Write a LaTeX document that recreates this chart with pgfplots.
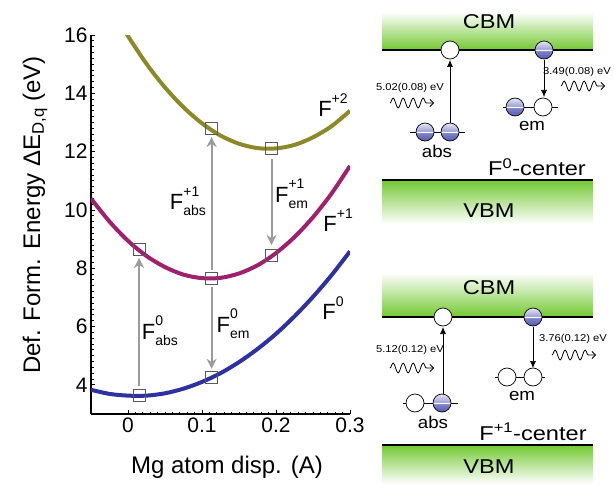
\documentclass[border=0pt]{standalone}
\usepackage{fontspec}
\setmainfont{Liberation Sans}
\usepackage{pgfplots}
\pgfplotsset{compat=1.18}
\usetikzlibrary{arrows.meta,decorations.pathmorphing}
\definecolor{olivec}{RGB}{140,138,40}
\definecolor{magc}{RGB}{160,32,110}
\definecolor{bluec}{RGB}{45,50,160}
\definecolor{greenc}{RGB}{115,200,50}
\definecolor{ballc}{RGB}{85,90,180}
\definecolor{arrowc}{RGB}{155,155,155}
\pgfdeclareverticalshading{ball}{100bp}{color(0bp)=(ballc); color(25bp)=(ballc); color(47bp)=(ballc!75); color(50bp)=(white); color(53bp)=(ballc!55); color(75bp)=(ballc!15); color(100bp)=(ballc!15)}
\newcommand{\Flab}[2]{F\raisebox{0.62em}{\makebox[0pt][l]{\fontsize{14}{14}\selectfont#1}}\raisebox{-0.28em}{\fontsize{14}{14}\selectfont#2}}
\newcommand{\Fsup}[1]{F\raisebox{0.62em}{\fontsize{14}{14}\selectfont#1}}
\tikzset{
  ball/.style={shading=ball, draw=black, line width=0.7pt},
  emptyc/.style={fill=white, draw=black, line width=0.7pt},
  big/.style={font=\fontsize{20}{20}\selectfont, xscale=1.18},
  small/.style={font=\fontsize{10}{10}\selectfont, xscale=1.12},
  mid/.style={font=\fontsize{17}{17}\selectfont, xscale=1.1},
  wave/.style={decorate, decoration={snake, amplitude=5pt, segment length=10pt, post length=4pt}, line width=0.8pt, -{Straight Barb[length=3.5pt]}},
  tr/.style={line width=0.7pt, -{Latex[length=7pt,width=6pt]}}
}
\begin{document}
\begin{tikzpicture}
\useasboundingbox (0,0) rectangle (615pt,-484pt);
\begin{axis}[at={(91pt,-414pt)}, anchor=south west,
  width=259pt, height=379pt, scale only axis,
  xmin=-0.05, xmax=0.3, ymin=3, ymax=16,
  clip mode=individual,
  axis lines*=left, axis line style={line width=1.5pt},
  xtick={0,0.1,0.2,0.3}, ytick={4,6,8,10,12,14,16},
  minor x tick num=9, minor y tick num=9,
  tick align=inside, major tick length=4pt, minor tick length=2.5pt,
  tick style={black, line width=0.8pt},
  /pgf/number format/assume math mode=true,
  ticklabel style={font=\fontsize{21}{21}\selectfont},
  xticklabel style={/pgf/number format/fixed},
  label style={font=\fontsize{24}{24}\selectfont},
  xlabel={Mg atom disp. (A)},
  ylabel={Def. Form. Energy ΔE\textsubscript{D,q} (eV)},
  xlabel style={at={(axis description cs:0.525,-0.14)}, anchor=center},
  ylabel style={at={(axis description cs:-0.216,0.525)}, anchor=center},
]
\addplot[olivec, line width=4pt, smooth] coordinates {
(-0.01,16.38) (0,15.96) (0.025,15.01) (0.05,14.20) (0.075,13.52) (0.1,12.97) (0.125,12.55) (0.15,12.27) (0.175,12.12) (0.2,12.11) (0.225,12.23) (0.25,12.49) (0.275,12.87) (0.3,13.40)};
\addplot[magc, line width=4pt, smooth] coordinates {
(-0.05,10.39) (-0.025,9.60) (0,8.94) (0.025,8.42) (0.05,8.04) (0.075,7.78) (0.1,7.66) (0.125,7.67) (0.15,7.82) (0.175,8.10) (0.2,8.52) (0.225,9.07) (0.25,9.75) (0.275,10.56) (0.3,11.51)};
\addplot[bluec, line width=4pt, smooth] coordinates {
(-0.05,3.83) (-0.025,3.69) (0,3.63) (0.025,3.63) (0.05,3.71) (0.075,3.87) (0.1,4.10) (0.125,4.40) (0.15,4.78) (0.175,5.23) (0.2,5.75) (0.225,6.35) (0.25,7.02) (0.275,7.76) (0.3,8.58)};
\addplot[only marks, mark=square, mark size=6pt, mark options={draw=black!65, line width=0.8pt}] coordinates {
(0.015,3.63) (0.015,8.65) (0.113,4.25) (0.113,7.65) (0.113,12.8) (0.194,12.12) (0.194,8.45)};
\draw[arrowc, line width=2pt, -{Stealth[length=10pt,width=10pt]}] (axis cs:0.015,3.95) -- (axis cs:0.015,8.35);
\draw[arrowc, line width=2pt, -{Stealth[length=10pt,width=10pt]}] (axis cs:0.113,7.95) -- (axis cs:0.113,12.5);
\draw[arrowc, line width=2pt, -{Stealth[length=10pt,width=10pt]}] (axis cs:0.113,7.35) -- (axis cs:0.113,4.55);
\draw[arrowc, line width=2pt, -{Stealth[length=10pt,width=10pt]}] (axis cs:0.194,11.75) -- (axis cs:0.194,8.8);
\node[font=\fontsize{22}{22}\selectfont] at (axis cs:0.043,5.85) {\Flab{0}{abs}};
\node[font=\fontsize{22}{22}\selectfont] at (axis cs:0.081,10.3) {\Flab{+1}{abs}};
\node[font=\fontsize{22}{22}\selectfont] at (axis cs:0.142,6.1) {\Flab{0}{em}};
\node[font=\fontsize{22}{22}\selectfont] at (axis cs:0.221,10.55) {\Flab{+1}{em}};
\node[font=\fontsize{22}{22}\selectfont] at (axis cs:0.277,13.6) {\Fsup{+2}};
\node[font=\fontsize{22}{22}\selectfont] at (axis cs:0.284,9.65) {\Fsup{+1}};
\node[font=\fontsize{22}{22}\selectfont] at (axis cs:0.277,6.63) {\Fsup{0}};
\end{axis}
\begin{scope}[x=1pt,y=-1pt]
% ---------- top panel: F0 centre ----------
\shade[top color=white, bottom color=greenc] (382,12) rectangle (593,50);
\draw[line width=1.6pt] (382,50) -- (593,50);
\node[big] at (489,22) {CBM};
\shade[top color=greenc, bottom color=white] (382,180) rectangle (593,224);
\draw[line width=1.6pt] (382,180) -- (593,180);
\node[big] at (489,211) {VBM};
\node[big] at (537,167) {F\textsuperscript{0}-center};
\draw[tr] (450,123) -- (450,60);
\draw[tr] (544,60) -- (544,97);
\draw[line width=0.7pt] (410,132) -- (465,132);
\draw[line width=0.7pt] (503,107) -- (558,107);
\path[ball] (425,132) circle[radius=9pt];
\path[ball] (450,132) circle[radius=9pt];
\path[ball] (515,107) circle[radius=9pt];
\path[emptyc] (543,107) circle[radius=9pt];
\path[emptyc] (450,50) circle[radius=9pt];
\path[ball] (544,50) circle[radius=9pt];
\node[mid] at (437,151) {abs};
\node[mid] at (532,126) {em};
\node[small] at (410,88) {5.02(0.08) eV};
\draw[wave] (390,103) -- (434,103);
\node[small] at (577,72) {3.49(0.08) eV};
\draw[wave] (561,86) -- (605,86);
% ---------- bottom panel: F+1 centre ----------
\shade[top color=white, bottom color=greenc] (382,273) rectangle (593,317);
\draw[line width=1.6pt] (382,317) -- (593,317);
\node[big] at (489,288) {CBM};
\shade[top color=greenc, bottom color=white] (382,445) rectangle (593,484);
\draw[line width=1.6pt] (382,445) -- (593,445);
\node[big] at (489,467) {VBM};
\node[big] at (533,432) {F\textsuperscript{+1}-center};
\draw[tr] (443,394) -- (443,327);
\draw[tr] (533,327) -- (533,368);
\draw[line width=0.7pt] (403,403) -- (458,403);
\draw[line width=0.7pt] (495,377) -- (545,377);
\path[emptyc] (415,403) circle[radius=9pt];
\path[ball] (442,403) circle[radius=9pt];
\path[emptyc] (507,377) circle[radius=9pt];
\path[emptyc] (533,377) circle[radius=9pt];
\path[emptyc] (443,317) circle[radius=9pt];
\path[ball] (533,317) circle[radius=9pt];
\node[mid] at (433,422) {abs};
\node[mid] at (522,396) {em};
\node[small] at (410,350) {5.12(0.12) eV};
\draw[wave] (390,368) -- (434,368);
\node[small] at (573,339) {3.76(0.12) eV};
\draw[wave] (552,355) -- (596,355);
\end{scope}
\end{tikzpicture}
\end{document}
